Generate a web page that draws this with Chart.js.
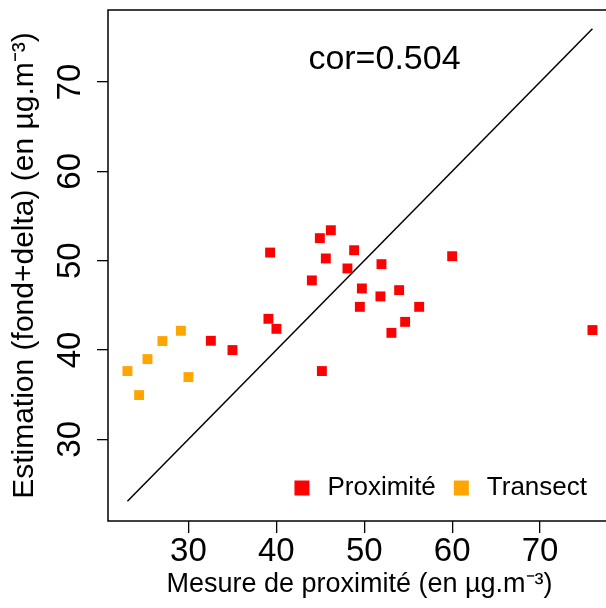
<!DOCTYPE html>
<html lang="fr">
<head>
<meta charset="UTF-8">
<title>Estimation vs mesure de proximité</title>
<script src="https://cdn.jsdelivr.net/npm/chart.js"></script>
<style>
  html, body { margin: 0; padding: 0; background: #fff; overflow: hidden; }
  #wrap { width: 606px; height: 608px; overflow: hidden; }
</style>
</head>
<body>
<div id="wrap"><canvas id="chart" width="620" height="608"></canvas></div>
<script>
  // valeurs
  const proxX = [32.55, 35.01, 39.29, 39.10, 40.01, 44.04, 45.18, 44.95, 46.2, 45.63, 48.85,
                 48.09, 51.96, 49.73, 51.84, 53.97, 49.5, 56.25, 54.65, 53.09, 60.0, 75.96];
  const proxY = [41.03, 39.99, 50.91, 43.49, 42.37, 47.79, 37.64, 52.52, 53.41, 50.25, 51.17,
                 49.13, 49.61, 46.89, 46.0, 46.7, 44.83, 44.83, 43.15, 41.92, 50.5, 42.23];
  const transX = [23.06, 24.39, 25.34, 27.04, 29.14, 30.0];
  const transY = [37.64, 34.95, 38.98, 41.0, 42.15, 36.97];

  const seriesLabels = ['Proximité', 'Transect'];
  const seriesColors = ['#ff0000', '#ffa500'];
  const axisTicks = [30, 40, 50, 60, 70];
  const axisMin = 20.85;
  const axisMax = 78.07;
  const corText = 'cor=0.504';
  const corPos = [52.3, 72.5];
  const xTitle = 'Mesure de proximité (en µg.m⁻³)';
  const yTitle = 'Estimation (fond+delta) (en µg.m⁻³)';

  const FONT = '"Liberation Sans", Arial, sans-serif';

  const toPoints = (xs, ys) => xs.map((x, i) => ({ x: x, y: ys[i] }));
  const allX = proxX.concat(transX);
  const lo = Math.min(...allX);
  const hi = Math.max(...allX);

  // cadre autour de la zone de tracé
  const boxPlugin = {
    id: 'box',
    afterDraw(chart) {
      const { ctx, chartArea: a } = chart;
      ctx.save();
      ctx.strokeStyle = '#000';
      ctx.lineWidth = 1.5;
      ctx.strokeRect(a.left, a.top, a.right - a.left, a.bottom - a.top);
      ctx.restore();
    }
  };

  const corPlugin = {
    id: 'corLabel',
    afterDraw(chart) {
      const { ctx, scales } = chart;
      ctx.save();
      ctx.font = '34px ' + FONT;
      ctx.fillStyle = '#000';
      ctx.textAlign = 'center';
      ctx.textBaseline = 'middle';
      ctx.fillText(corText, scales.x.getPixelForValue(corPos[0]), scales.y.getPixelForValue(corPos[1]));
      ctx.restore();
    }
  };

  // légende en bas à droite, sans cadre
  const legendPlugin = {
    id: 'cornerLegend',
    afterDraw(chart) {
      const { ctx, chartArea } = chart;
      const items = chart.data.datasets.filter(d => d.label);
      const box = 15, gap = 18;
      let x = chartArea.right - 24;
      const y = chartArea.bottom - 33;
      ctx.save();
      ctx.font = '26px ' + FONT;
      ctx.textBaseline = 'middle';
      for (let i = items.length - 1; i >= 0; i--) {
        const w = ctx.measureText(items[i].label).width;
        x -= w;
        ctx.fillStyle = '#000';
        ctx.fillText(items[i].label, x, y);
        x -= gap + box;
        ctx.fillStyle = items[i].backgroundColor;
        ctx.fillRect(x, y - box / 2, box, box);
        x -= gap;
      }
      ctx.restore();
    }
  };

  const axisCommon = {
    type: 'linear',
    min: axisMin,
    max: axisMax,
    border: { display: false },
    grid: { drawOnChartArea: false, drawTicks: true, tickLength: 11, color: '#000', lineWidth: 1.3 },
    afterBuildTicks: s => { s.ticks = axisTicks.map(v => ({ value: v })); }
  };

  new Chart(document.getElementById('chart'), {
    type: 'scatter',
    data: {
      datasets: [
        {
          label: seriesLabels[0],
          data: toPoints(proxX, proxY),
          backgroundColor: seriesColors[0],
          pointStyle: 'rect',
          pointRadius: 7,
          borderWidth: 0
        },
        {
          label: seriesLabels[1],
          data: toPoints(transX, transY),
          backgroundColor: seriesColors[1],
          pointStyle: 'rect',
          pointRadius: 7,
          borderWidth: 0
        },
        {
          type: 'line',
          data: [{ x: lo, y: lo }, { x: hi, y: hi }],
          borderColor: '#000',
          borderWidth: 1.5,
          pointRadius: 0,
          fill: false
        }
      ]
    },
    options: {
      responsive: false,
      animation: false,
      layout: { padding: { top: 10, right: 9, left: 0, bottom: 0 } },
      plugins: {
        legend: { display: false },
        tooltip: { enabled: false }
      },
      scales: {
        x: {
          ...axisCommon,
          position: 'bottom',
          afterFit: s => { s.height = 87; s.paddingLeft = 0; s.paddingRight = 0; },
          grid: { ...axisCommon.grid, tickLength: 12 },
          ticks: { color: '#000', font: { size: 33, family: FONT }, padding: -1, maxRotation: 0 },
          title: { display: true, text: xTitle, color: '#000', font: { size: 27, family: FONT }, padding: { bottom: 7 } }
        },
        y: {
          ...axisCommon,
          position: 'left',
          afterFit: s => { s.width = 108; s.paddingTop = 0; s.paddingBottom = 0; },
          ticks: { color: '#000', font: { size: 33, family: FONT }, padding: 8, minRotation: 90, maxRotation: 90, crossAlign: 'center' },
          title: { display: true, text: yTitle, color: '#000', font: { size: 30, family: FONT }, padding: { top: 7 } }
        }
      }
    },
    plugins: [boxPlugin, corPlugin, legendPlugin]
  });
</script>
</body>
</html>
